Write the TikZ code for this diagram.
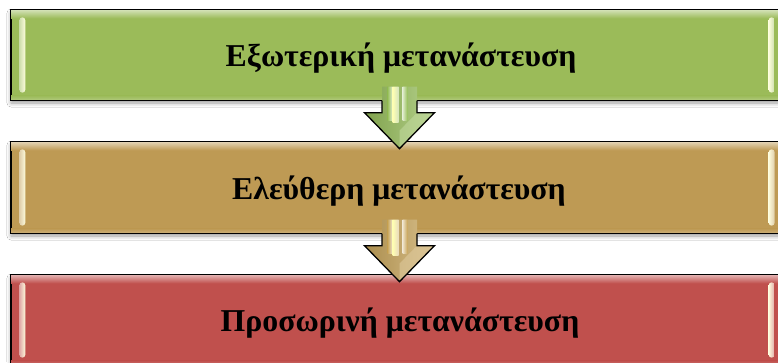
\documentclass[tikz,border=0pt]{standalone}
\usepackage{fontspec}
\setmainfont{Liberation Serif}
\usetikzlibrary{calc,shadows.blur}
\definecolor{gbase}{RGB}{155,187,89}
\definecolor{tbase}{RGB}{190,154,84}
\definecolor{rbase}{RGB}{192,80,77}
\definecolor{garrow}{RGB}{150,190,90}
\definecolor{tarrow}{RGB}{200,165,90}
\tikzset{
  x=1pt, y=-1pt,
  stagebox/.style={draw=black, line width=1.3pt, minimum width=772pt, minimum height=90pt,
    inner sep=0pt, text height=29pt, text depth=6pt,
    font=\bfseries\fontsize{31.8}{38}\selectfont,
    blur shadow={shadow xshift=0pt, shadow yshift=-3pt, shadow blur radius=4pt, shadow opacity=40}},
  arrowline/.style={draw=black, line width=1.3pt, line join=miter},
}
\newcommand{\mybevel}[2]{%
  \shade[top color=#2!45!white, bottom color=#2] ($(#1.north west)+(0.7,0.7)$) rectangle ($(#1.north east)+(-0.7,9)$);
  \shade[top color=#2, bottom color=#2!80!white] ($(#1.south west)+(0.7,-5)$) rectangle ($(#1.south east)+(-0.7,-0.7)$);
  \shade[left color=#2!50!white, right color=#2!20!yellow!15!white, rounded corners=3pt] ($(#1.north west)+(9,8)$) rectangle ($(#1.south west)+(15,-8)$);
  \shade[left color=#2!20!yellow!15!white, right color=#2!50!white, rounded corners=3pt] ($(#1.north east)+(-15,8)$) rectangle ($(#1.south east)+(-9,-8)$);
}
\newcommand{\myblockarrow}[3]{%
  \coordinate (#1s) at ($(#1.south)+(2.5,0)$);
  \begin{scope}
    \clip ($(#1s)+(-17.5,-14)$) -- ($(#1s)+(-17.5,12)$) -- ($(#1s)+(-35,12)$) -- ($(#1s)+(0,48)$)
      -- ($(#1s)+(35,12)$) -- ($(#1s)+(17.5,12)$) -- ($(#1s)+(17.5,-14)$) -- cycle;
    \shade[left color=#3!85!black, right color=#3!70!white] ($(#1s)+(-36,-14)$) rectangle ($(#1s)+(36,49)$);
    \shade[left color=#3, right color=#3!30!white] ($(#1s)+(-12,-14)$) rectangle ($(#1s)+(-7,20)$);
    \shade[left color=white!70!yellow, right color=#3!40!white] ($(#1s)+(-7,-14)$) rectangle ($(#1s)+(-1,22)$);
    \shade[left color=#3!30!white, right color=#3] ($(#1s)+(3,-14)$) rectangle ($(#1s)+(8,20)$);
    \fill[#3!60!white, opacity=0.6] ($(#1s)+(0,48)$) -- ($(#1s)+(35,12)$) -- ($(#1s)+(17.5,12)$) -- ($(#1s)+(0,30)$) -- cycle;
  \end{scope}
  \draw[arrowline] ($(#1s)+(-17.5,0)$) -- ($(#1s)+(-17.5,12)$) -- ($(#1s)+(-35,12)$) -- ($(#1s)+(0,48)$)
      -- ($(#1s)+(35,12)$) -- ($(#1s)+(17.5,12)$) -- ($(#1s)+(17.5,0)$);
}
\begin{document}
\begin{tikzpicture}
  \clip (0,0) rectangle (778,362);
  \fill[white] (0,0) rectangle (778,362);
  \node[stagebox, fill=gbase] (b1) at (397,55) {\hspace*{8pt}Εξωτερική μετανάστευση};
  \node[stagebox, fill=tbase, minimum height=91pt] (b2) at (397,187.5) {\hspace*{4pt}Ελεύθερη μετανάστευση};
  \node[stagebox, fill=rbase] (b3) at (397,320) {\hspace*{6pt}Προσωρινή μετανάστευση};
  \mybevel{b1}{gbase}
  \mybevel{b2}{tbase}
  \mybevel{b3}{rbase}
  \myblockarrow{b1}{b2}{garrow}
  \myblockarrow{b2}{b3}{tarrow}
\end{tikzpicture}
\end{document}
